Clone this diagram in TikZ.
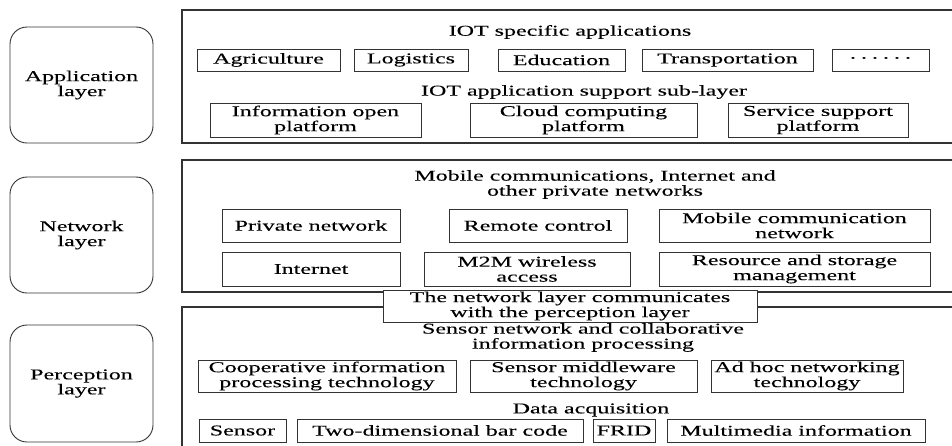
\documentclass[tikz,border=0pt]{standalone}
\usepackage{fontspec}
\setmainfont[FakeStretch=1.6, FakeBold=0.15]{Liberation Serif}
\usepackage{tikz}
\usetikzlibrary{positioning}

\begin{document}
\begin{tikzpicture}[
  x=1pt, y=-1pt,
  every node/.style={font=\fontsize{15}{15}\selectfont, text=black},
  layer/.style={
    draw=black!80, line width=0.9pt, rounded corners=17pt,
    minimum width=143pt, align=center, inner sep=0pt
  },
  frame/.style={
    draw=black!80, line width=1.8pt, minimum width=778pt,
    inner sep=0pt
  },
  item/.style={
    draw=black!80, line width=0.8pt, fill=white,
    align=center, inner sep=0pt
  },
  caption/.style={align=center, inner sep=0pt}
]
\clip (0,0) rectangle (952,445);

% ---- Layer labels on the left ----
\node[layer, minimum height=116pt] (AppL) at (81.5,85)  {Application\\layer};
\node[layer, minimum height=116pt] (NetL) at (81.5,235) {Network\\layer};
\node[layer, minimum height=117pt] (PerL) at (81.5,383.5) {Perception\\layer};

% ---- Frames (right side runs off the page) ----
\node[frame, minimum height=133pt] (AppF) at (571,76.5) {};
\node[frame, minimum height=132pt] (NetF) at (571,226) {};
\node[frame, minimum height=153pt] (PerF) at (571,383.5) {};

% ---- Application layer ----
\node[caption] (AppT) at (570,32) {IOT specific applications};
\node[item, minimum width=143pt, minimum height=22pt] (Agri)  at (268.5,60) {Agriculture};
\node[item, minimum width=114pt, minimum height=22pt] (Logi)  at (411,60)   {Logistics};
\node[item, minimum width=127pt, minimum height=22pt] (Edu)   at (561.5,60) {Education};
\node[item, minimum width=171pt, minimum height=22pt] (Trans) at (727.5,60) {Transportation};
\node[item, minimum width=97pt,  minimum height=22pt] (More)  at (880.5,60)
  {·\hspace{3pt}·\hspace{3pt}·\hspace{3pt}·\hspace{3pt}·\hspace{3pt}·};

\node[caption] (AppS) at (584,92) {IOT application support sub-layer};
\node[item, minimum width=211pt, minimum height=34pt] (Open)  at (315.5,120) {Information open\\platform};
\node[item, minimum width=227pt, minimum height=34pt] (Cloud) at (583.5,120) {Cloud computing\\platform};
\node[item, minimum width=180pt, minimum height=34pt] (Serv)  at (818,120)   {Service support\\platform};

% ---- Network layer ----
\node[caption] (NetT) at (595,184.5) {Mobile communications, Internet and\\other private networks};
\node[item, minimum width=178pt, minimum height=33pt] (Priv)  at (311,225.5)   {Private network};
\node[item, minimum width=178pt, minimum height=33pt] (Remo)  at (538,225.5)   {Remote control};
\node[item, minimum width=271pt, minimum height=33pt] (Mobi)  at (794.5,225.5) {Mobile communication\\network};
\node[item, minimum width=178pt, minimum height=34pt] (Inet)  at (311,269)     {Internet};
\node[item, minimum width=206pt, minimum height=34pt] (M2M)   at (527,269)     {M2M wireless\\access};
\node[item, minimum width=271pt, minimum height=34pt] (Stor)  at (794.5,269)   {Resource and storage\\management};

% ---- Link between network and perception ----
\node[item, minimum width=374pt, minimum height=32pt] (Comm) at (570,306)
  {The network layer communicates\\with the perception layer};

% ---- Perception layer ----
\node[caption] (PerT) at (583,337.5) {Sensor network and collaborative\\information processing};
\node[item, minimum width=258pt, minimum height=32pt] (Coop) at (327,376)   {Cooperative information\\processing technology};
\node[item, minimum width=227pt, minimum height=32pt] (Midd) at (583.5,376) {Sensor middleware\\technology};
\node[item, minimum width=192pt, minimum height=32pt] (AdHoc) at (807,376)  {Ad hoc networking\\technology};

\node[caption] (Acq) at (591,410) {Data acquisition};
\node[item, minimum width=87pt,  minimum height=23pt] (Sens) at (242.5,430.5) {Sensor};
\node[item, minimum width=286pt, minimum height=23pt] (Bar)  at (440,430.5)   {Two-dimensional bar code};
\node[item, minimum width=62pt,  minimum height=23pt] (FRID) at (624,430.5)   {FRID};
\node[item, minimum width=258pt, minimum height=23pt] (Media) at (796,430.5)  {Multimedia information};

\end{tikzpicture}
\end{document}
